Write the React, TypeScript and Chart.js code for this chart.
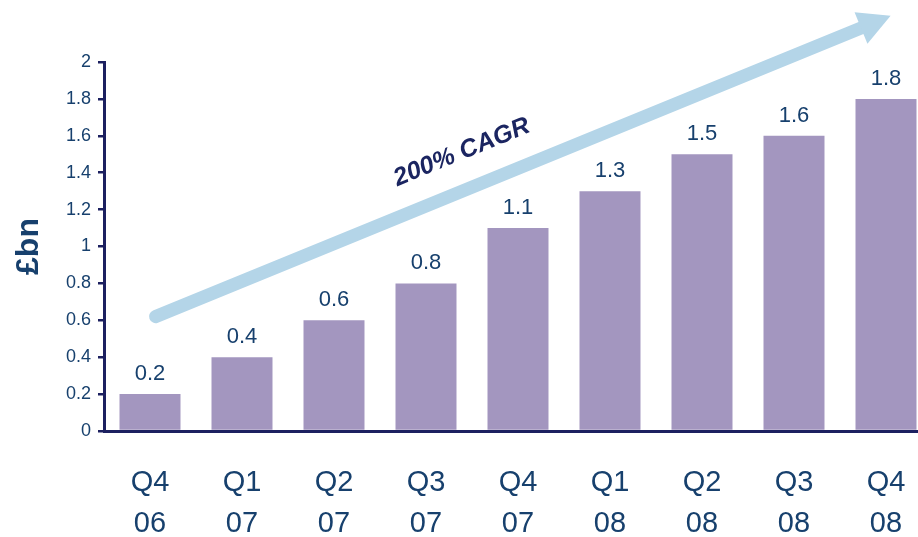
import React, { useEffect, useRef } from "react";
import { Chart, registerables } from "chart.js";

Chart.register(...registerables);

const quarters = ["Q4", "Q1", "Q2", "Q3", "Q4", "Q1", "Q2", "Q3", "Q4"];
const years = ["06", "07", "07", "07", "07", "08", "08", "08", "08"];
const values = [0.2, 0.4, 0.6, 0.8, 1.1, 1.3, 1.5, 1.6, 1.8];
const yTitle = "£bn";
const cagrText = "200% CAGR";
// arrow anchors in data space: [category index, value]
const arrowStart = [0.06, 0.62];
const arrowEnd = [8.05, 2.25];
const cagrAnchor = [3.39, 1.51];

const FONT = "Arial, 'Liberation Sans', sans-serif";
const NAVY = "#17406D";
const AXIS = "#1C2060";
const BAR = "#A396BF";
const ARROW = "#B4D5E8";
const CAGR = "#1B2561";

const overlayPlugin = {
  id: "overlay",
  afterDatasetsDraw(chart: any) {
    const { ctx } = chart;
    const xs = chart.scales.x;
    const ys = chart.scales.y;
    // data labels
    const meta = chart.getDatasetMeta(0);
    ctx.save();
    ctx.font = `22px ${FONT}`;
    ctx.fillStyle = NAVY;
    ctx.textAlign = "center";
    ctx.textBaseline = "bottom";
    meta.data.forEach((bar: any, i: number) => {
      ctx.fillText(String(values[i]), bar.x, bar.y - 9);
    });
    ctx.restore();

    // arrow
    const x1 = xs.getPixelForValue(arrowStart[0]);
    const y1 = ys.getPixelForValue(arrowStart[1]);
    const x2 = xs.getPixelForValue(arrowEnd[0]);
    const y2 = ys.getPixelForValue(arrowEnd[1]);
    const ang = Math.atan2(y2 - y1, x2 - x1);
    const len = Math.hypot(x2 - x1, y2 - y1);
    ctx.save();
    ctx.translate(x1, y1);
    ctx.rotate(ang);
    ctx.fillStyle = ARROW;
    ctx.strokeStyle = ARROW;
    ctx.lineWidth = 13;
    ctx.lineCap = "round";
    ctx.beginPath();
    ctx.moveTo(0, 0);
    ctx.lineTo(len - 24, 0);
    ctx.stroke();
    ctx.beginPath();
    ctx.moveTo(len, 0);
    ctx.lineTo(len - 32, -17);
    ctx.lineTo(len - 32, 17);
    ctx.closePath();
    ctx.fill();
    ctx.restore();

    // CAGR text
    const tx = xs.getPixelForValue(cagrAnchor[0]);
    const ty = ys.getPixelForValue(cagrAnchor[1]);
    ctx.save();
    ctx.translate(tx, ty);
    ctx.rotate(ang);
    ctx.font = `italic bold 25px ${FONT}`;
    ctx.fillStyle = CAGR;
    ctx.textAlign = "center";
    ctx.textBaseline = "middle";
    ctx.fillText(cagrText, 0, 0);
    ctx.restore();
  },
};

export default function App() {
  const ref = useRef<HTMLCanvasElement>(null);
  useEffect(() => {
    const labels = quarters.map((q, i) => [q, years[i]]);
    const chart = new Chart(ref.current as HTMLCanvasElement, {
      type: "bar",
      data: {
        labels,
        datasets: [
          {
            data: values,
            backgroundColor: BAR,
            borderWidth: 0,
            barPercentage: 0.663,
            categoryPercentage: 1,
          },
        ],
      },
      options: {
        animation: false,
        responsive: false,
        layout: { padding: { top: 62, right: 0, left: 0, bottom: 0 } },
        plugins: { legend: { display: false }, tooltip: { enabled: false } },
        scales: {
          x: {
            afterFit: (s: any) => {
              s.height = 106;
              s.paddingLeft = 0;
              s.paddingRight = 0;
            },
            grid: { display: false, drawTicks: false },
            border: { display: true, color: AXIS, width: 3 },
            ticks: {
              color: NAVY,
              font: { family: FONT, size: 29, lineHeight: 1.42 },
              padding: 31,
              maxRotation: 0,
              autoSkip: false,
            },
          },
          y: {
            min: 0,
            max: 2,
            afterFit: (s: any) => {
              s.width = 104;
              s.paddingTop = 0;
              s.paddingBottom = 0;
            },
            grid: {
              display: true,
              drawOnChartArea: false,
              drawTicks: true,
              tickLength: 6,
              color: AXIS,
              lineWidth: 2.5,
            },
            border: { display: true, color: AXIS, width: 3 },
            ticks: {
              stepSize: 0.2,
              color: NAVY,
              font: { family: FONT, size: 18 },
              padding: 7,
              callback: (v: any) => String(Math.round(Number(v) * 10) / 10),
            },
            title: {
              display: true,
              text: yTitle,
              color: NAVY,
              font: { family: FONT, size: 32, weight: "bold" },
              padding: { top: 10, bottom: 0 },
            },
          },
        },
      },
      plugins: [overlayPlugin],
    });
    return () => chart.destroy();
  }, []);
  return (
    <div
      style={{
        position: "absolute",
        left: 0,
        top: 0,
        width: 918,
        height: 537,
        overflow: "hidden",
        background: "#fff",
      }}
    >
      <canvas ref={ref} width={932} height={537} style={{ display: "block" }} />
    </div>
  );
}
